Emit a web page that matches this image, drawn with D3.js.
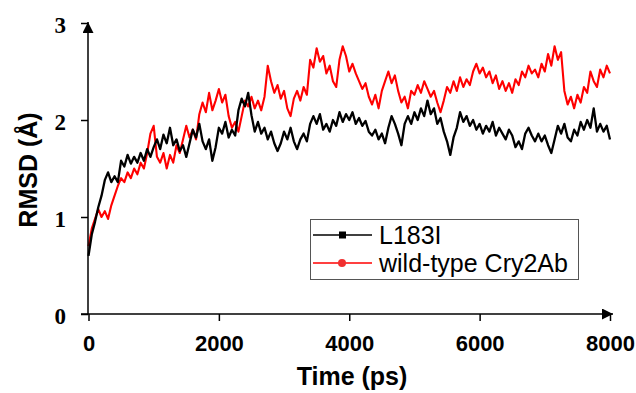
<!DOCTYPE html>
<html>
<head>
<meta charset="utf-8">
<script src="https://cdn.jsdelivr.net/npm/d3@7"></script>
<style>
  body { margin: 0; background: #fff; }
  svg { display: block; }
</style>
</head>
<body>
<div class="chart"></div>
<script>
// time axis, one sample every 50 ps
const step = 50
const xTicks = [0, 2000, 4000, 6000, 8000]
const yTicks = [0, 1, 2, 3]

// L183I mutant
const mutant = [
  0.60, 0.82, 0.95, 1.10, 1.22, 1.38, 1.46, 1.36, 1.42, 1.36,
  1.58, 1.52, 1.64, 1.55, 1.62, 1.56, 1.66, 1.58, 1.70, 1.62,
  1.72, 1.80, 1.70, 1.85, 1.76, 1.92, 1.74, 1.80, 1.68, 1.74,
  1.62, 1.76, 1.90, 1.82, 1.96, 1.78, 1.70, 1.80, 1.58, 1.72,
  1.92, 1.86, 1.98, 1.82, 1.90, 1.84, 2.10, 2.22, 2.14, 2.28,
  2.05, 1.88, 1.98, 1.86, 1.92, 1.80, 1.88, 1.76, 1.68, 1.76,
  1.88, 1.80, 1.92, 1.78, 1.70, 1.80, 1.86, 1.78, 1.96, 2.04,
  1.96, 2.06, 1.90, 1.96, 1.88, 2.00, 1.94, 2.08, 1.98, 2.06,
  2.00, 2.08, 1.96, 2.02, 1.94, 1.99, 1.88, 1.84, 1.90, 1.80,
  1.86, 1.76, 1.92, 2.04, 1.96, 1.86, 1.74, 1.96, 2.04, 1.96,
  2.08, 2.00, 2.12, 2.04, 2.20, 2.06, 2.12, 1.96, 2.02, 1.88,
  1.78, 1.64, 1.82, 1.92, 2.08, 1.98, 2.04, 1.94, 2.00, 1.90,
  1.96, 1.86, 1.94, 1.88, 1.98, 1.84, 1.92, 1.86, 1.80, 1.90,
  1.84, 1.72, 1.78, 1.70, 1.86, 1.92, 1.84, 1.78, 1.86, 1.78,
  1.84, 1.74, 1.66, 1.80, 1.94, 1.86, 1.96, 1.82, 1.78, 1.90,
  1.84, 1.98, 1.90, 2.00, 1.92, 2.12, 1.88, 1.96, 1.88, 1.94,
  1.80
]

// wild-type Cry2Ab
const wildtype = [
  0.70, 0.88, 0.98, 1.08, 1.00, 1.06, 0.98, 1.12, 1.22, 1.32,
  1.40, 1.36, 1.46, 1.40, 1.50, 1.44, 1.56, 1.50, 1.66, 1.86,
  1.94, 1.62, 1.56, 1.66, 1.50, 1.64, 1.56, 1.74, 1.66, 1.80,
  1.94, 1.82, 1.90, 1.80, 2.06, 2.18, 2.08, 2.28, 2.10, 2.20,
  2.32, 2.18, 2.26, 2.04, 1.92, 1.98, 1.88, 2.04, 2.20, 2.14,
  2.24, 2.12, 2.20, 2.10, 2.24, 2.56, 2.40, 2.28, 2.36, 2.22,
  2.30, 2.12, 2.04, 2.22, 2.30, 2.20, 2.34, 2.26, 2.62, 2.54,
  2.74, 2.60, 2.66, 2.48, 2.56, 2.40, 2.34, 2.62, 2.76, 2.66,
  2.50, 2.58, 2.48, 2.40, 2.32, 2.38, 2.24, 2.16, 2.26, 2.12,
  2.30, 2.40, 2.50, 2.38, 2.46, 2.30, 2.18, 2.24, 2.12, 2.30,
  2.26, 2.36, 2.28, 2.40, 2.32, 2.24, 2.30, 2.18, 2.08, 2.20,
  2.34, 2.28, 2.40, 2.30, 2.44, 2.34, 2.42, 2.36, 2.50, 2.58,
  2.48, 2.54, 2.44, 2.50, 2.38, 2.46, 2.32, 2.40, 2.30, 2.38,
  2.28, 2.42, 2.36, 2.50, 2.44, 2.56, 2.48, 2.52, 2.44, 2.58,
  2.50, 2.68, 2.56, 2.76, 2.62, 2.70, 2.30, 2.16, 2.24, 2.12,
  2.26, 2.18, 2.34, 2.28, 2.50, 2.40, 2.34, 2.52, 2.44, 2.56,
  2.48
]

const seriesNames = ['L183I', 'wild-type Cry2Ab']
const seriesColors = ['#000000', '#ff0000']

const width = 636
const height = 393
const margin = {top: 23, right: 26, bottom: 79, left: 88}

const svg = d3.select('.chart').append('svg')
    .attr('width', width)
    .attr('height', height)

const xScale = d3.scaleLinear()
    .domain([0, 8000])
    .range([margin.left + 0.5, width - margin.right])

const yScale = d3.scaleLinear()
    .domain([0, 3])
    .range([height - margin.bottom, margin.top])

// arrow heads for the axes
const defs = svg.append('defs')
defs.append('marker')
    .attr('id', 'arrow')
    .attr('viewBox', '0 0 10 10')
    .attr('refX', 10).attr('refY', 5)
    .attr('markerWidth', 12).attr('markerHeight', 11)
    .attr('markerUnits', 'userSpaceOnUse')
    .attr('orient', 'auto')
  .append('path')
    .attr('d', 'M0,0L10,5L0,10Z')
    .attr('fill', '#000')

const line = d3.line()
    .x((d, i) => xScale(i * step))
    .y(d => yScale(d))

// red first so the black trace sits on top
svg.append('path')
    .datum(wildtype)
    .attr('d', line)
    .attr('fill', 'none')
    .attr('stroke', seriesColors[1])
    .attr('stroke-width', 2.1)
    .attr('stroke-linejoin', 'round')

svg.append('path')
    .datum(mutant)
    .attr('d', line)
    .attr('fill', 'none')
    .attr('stroke', seriesColors[0])
    .attr('stroke-width', 2.3)
    .attr('stroke-linejoin', 'round')

const yAxis = d3.axisLeft(yScale)
    .tickValues(yTicks)
    .tickFormat(d3.format('d'))
    .tickSize(7)
    .tickSizeOuter(0)
    .tickPadding(15)

const xAxis = d3.axisBottom(xScale)
    .tickValues(xTicks)
    .tickFormat(d3.format('d'))
    .tickSize(7)
    .tickSizeOuter(0)
    .tickPadding(14)

const gy = svg.append('g')
    .attr('transform', `translate(${margin.left},0)`)
    .call(yAxis)
gy.select('.domain').remove()
gy.selectAll('.tick line').attr('stroke', '#000').attr('stroke-width', 1.5)
gy.selectAll('.tick text')
    .attr('font-family', '"Liberation Serif", "Times New Roman", serif')
    .attr('font-weight', 'bold')
    .attr('font-size', 23)
    .attr('fill', '#000')
    .attr('dy', '0.4em')

const gx = svg.append('g')
    .attr('transform', `translate(0,${height - margin.bottom})`)
    .call(xAxis)
gx.select('.domain').remove()
gx.selectAll('.tick line').attr('stroke', '#000').attr('stroke-width', 1.5)
gx.selectAll('.tick text')
    .attr('font-family', 'Arial, "Liberation Sans", sans-serif')
    .attr('font-weight', 'bold')
    .attr('font-size', 22)
    .attr('fill', '#000')

// axis lines with arrows
svg.append('line')
    .attr('x1', margin.left).attr('x2', margin.left)
    .attr('y1', yScale(0)).attr('y2', yScale(3) - 1)
    .attr('stroke', '#000').attr('stroke-width', 1.5)
    .attr('marker-end', 'url(#arrow)')

svg.append('line')
    .attr('x1', margin.left - 7).attr('x2', xScale(8000) + 3)
    .attr('y1', yScale(0)).attr('y2', yScale(0))
    .attr('stroke', '#000').attr('stroke-width', 1.5)
    .attr('marker-end', 'url(#arrow)')

// axis titles
svg.append('text')
    .attr('x', 352).attr('y', 385)
    .attr('text-anchor', 'middle')
    .attr('font-family', 'Arial, "Liberation Sans", sans-serif')
    .attr('font-weight', 'bold')
    .attr('font-size', 25)
    .text('Time (ps)')

svg.append('text')
    .attr('transform', 'translate(37,170) rotate(-90)')
    .attr('text-anchor', 'middle')
    .attr('font-family', 'Arial, "Liberation Sans", sans-serif')
    .attr('font-weight', 'bold')
    .attr('font-size', 25)
    .text('RMSD (Å)')

// legend
const legend = svg.append('g')
legend.append('rect')
    .attr('x', 310.5).attr('y', 219.5)
    .attr('width', 268).attr('height', 60)
    .attr('fill', '#fff')
    .attr('stroke', '#555')
    .attr('stroke-width', 1)

const rows = legend.selectAll('.row')
    .data(seriesNames)
    .join('g')
    .attr('class', 'row')
    .attr('transform', (d, i) => `translate(0,${235 + i * 28})`)

rows.append('line')
    .attr('x1', 313).attr('x2', 372)
    .attr('stroke', (d, i) => seriesColors[i])
    .attr('stroke-width', 1.5)

rows.filter((d, i) => i === 0).append('rect')
    .attr('x', 339).attr('y', -3.5)
    .attr('width', 7).attr('height', 7)
    .attr('fill', seriesColors[0])

rows.filter((d, i) => i === 1).append('circle')
    .attr('cx', 342).attr('cy', 0)
    .attr('r', 4)
    .attr('fill', '#f03030')

rows.append('text')
    .attr('x', 379).attr('y', 8.5)
    .attr('font-family', 'Arial, "Liberation Sans", sans-serif')
    .attr('font-size', 25)
    .attr('fill', '#000')
    .text(d => d)
</script>
</body>
</html>
